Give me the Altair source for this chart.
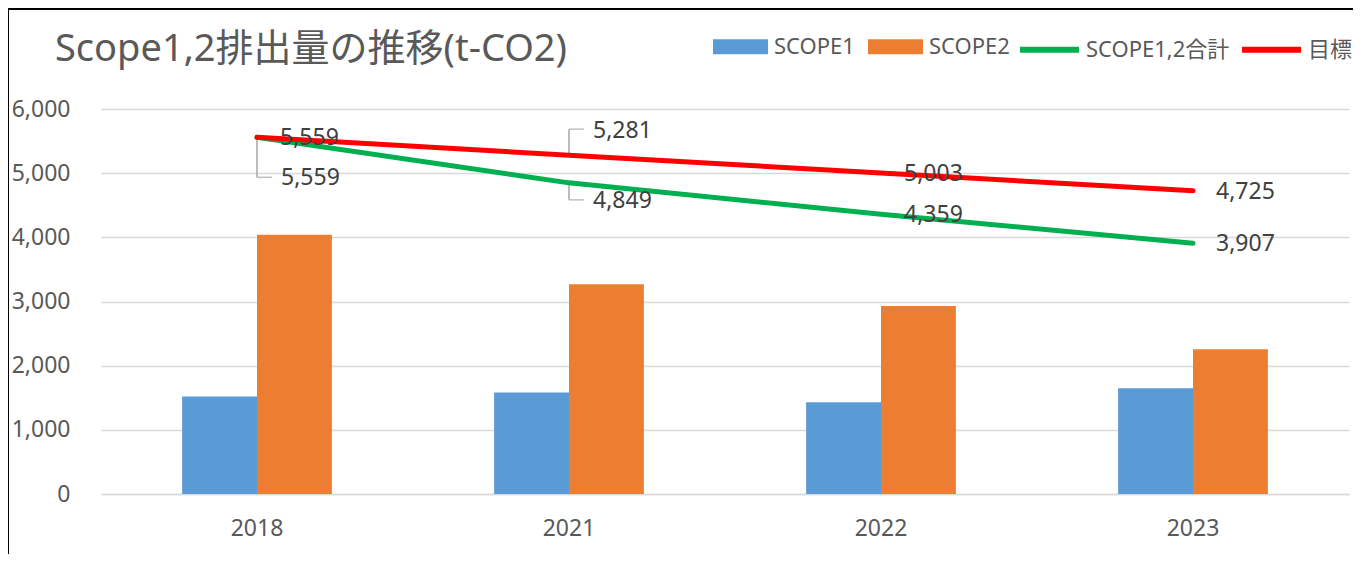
import altair as alt
import pandas as pd

FONT = "Noto Sans, Noto Sans CJK JP"

years = ["2018", "2021", "2022", "2023"]
scope1 = [1520, 1580, 1430, 1650]
scope2 = [4039, 3269, 2929, 2257]
total = [5559, 4849, 4359, 3907]
target = [5559, 5281, 5003, 4725]
bar_names = ["SCOPE1", "SCOPE2"]
line_names = ["SCOPE1,2合計", "目標"]
bar_colors = ["#5B9BD5", "#ED7D31"]
line_colors = ["#00B050", "#FF0000"]
y_ticks = [0, 1000, 2000, 3000, 4000, 5000, 6000]
title_text = "Scope1,2排出量の推移(t-CO2)"

bars_df = pd.DataFrame({
    "year": years * 2,
    "series": [bar_names[0]] * 4 + [bar_names[1]] * 4,
    "value": scope1 + scope2,
})
lines_df = pd.DataFrame({
    "year": years * 2,
    "series": [line_names[0]] * 4 + [line_names[1]] * 4,
    "value": total + target,
})
title_df = pd.DataFrame({"title": [title_text]})

W, H = 1248, 385
PAD = {"left": 93, "top": 101, "right": 4, "bottom": 60}
NUM = 23

x_enc = alt.X(
    "year:N", sort=years,
    scale=alt.Scale(paddingInner=0.52, paddingOuter=0.26),
    axis=alt.Axis(title=None, labelAngle=0, labelFont=FONT, labelFontSize=NUM,
                  labelColor="#595959", labelPadding=23, ticks=False, tickSize=0,
                  domainColor="#D9D9D9", domainWidth=1.5, grid=False),
)
y_enc = alt.Y(
    "value:Q",
    scale=alt.Scale(domain=[0, 6000], nice=False),
    axis=alt.Axis(title=None, values=y_ticks, format=",d", labelFont=FONT,
                  labelFontSize=NUM, labelColor="#595959", labelPadding=31,
                  ticks=False, tickSize=0, domain=False, grid=True,
                  gridColor="#D9D9D9", gridWidth=1.3),
)

fill_enc = alt.Fill(
    "series:N",
    scale=alt.Scale(domain=bar_names, range=bar_colors),
    legend=alt.Legend(
        orient="none", legendX=612, legendY=-90, direction="horizontal",
        title=None, labelFont=FONT, labelFontSize=22, labelColor="#595959",
        symbolType="M-1,-0.27H1V0.27H-1Z", symbolSize=3025, labelOffset=6,
        columnPadding=13, symbolStrokeWidth=0, symbolOpacity=1,
    ),
)
stroke_enc = alt.Stroke(
    "series:N",
    scale=alt.Scale(domain=line_names, range=line_colors),
    legend=alt.Legend(
        orient="none", legendX=916, legendY=-92, direction="horizontal",
        title=None, labelFont=FONT, labelFontSize=22, labelColor="#595959",
        symbolType="stroke", symbolSize=3481, symbolStrokeWidth=6, labelOffset=4,
        columnPadding=0, symbolOpacity=1,
    ),
)

bars = alt.Chart(bars_df).mark_bar().encode(
    x=x_enc, y=y_enc,
    xOffset=alt.XOffset("series:N", sort=bar_names),
    fill=fill_enc,
)

lines = alt.Chart(lines_df).mark_line(strokeWidth=5, strokeCap="round").encode(
    x=x_enc, y=y_enc, stroke=stroke_enc,
)

text_base = alt.Chart(lines_df).mark_text(
    align="left", baseline="middle", font=FONT, fontSize=NUM, color="#404040"
).encode(x=x_enc, y=y_enc, text=alt.Text("value:Q", format=",d"))

is_total = "datum.series == 'SCOPE1,2合計'"
is_target = "datum.series == '目標'"


def lbl(dx, dy):
    return dict(align="left", baseline="middle", font=FONT, fontSize=NUM,
                color="#404040", dx=dx, dy=dy)


labels_normal = text_base.mark_text(**lbl(23, 1)).transform_filter(
    f"!((datum.year == '2018' && {is_total}) || datum.year == '2021')"
)
label_2018_total = text_base.mark_text(**lbl(24, 41)).transform_filter(
    f"datum.year == '2018' && {is_total}")
label_2021_target = text_base.mark_text(**lbl(24, -24)).transform_filter(
    f"datum.year == '2021' && {is_target}")
label_2021_total = text_base.mark_text(**lbl(24, 18)).transform_filter(
    f"datum.year == '2021' && {is_total}")

LEADER = "#A6A6A6"


def leader(cond, y0, y1):
    v = alt.Chart(lines_df).mark_rule(
        color=LEADER, strokeWidth=1.5, yOffset=y0, y2Offset=y1
    ).encode(x=x_enc, y=y_enc, y2="value:Q").transform_filter(cond)
    h = alt.Chart(lines_df).mark_tick(
        color=LEADER, thickness=1.5, size=15, xOffset=7.5, yOffset=y1,
        orient="horizontal"
    ).encode(x=x_enc, y=y_enc).transform_filter(cond)
    return [v, h]


leaders = (
    leader(f"datum.year == '2018' && {is_total}", 0, 40)
    + leader(f"datum.year == '2021' && {is_target}", -2, -26)
    + leader(f"datum.year == '2021' && {is_total}", 2, 17)
)

title_mark = alt.Chart(title_df).mark_text(
    align="left", baseline="alphabetic", font=FONT, fontSize=38, color="#595959"
).encode(x=alt.value(-46), y=alt.value(-48), text="title:N")

frame_left = alt.Chart(title_df).mark_rule(color="#000000", strokeWidth=2).encode(
    x=alt.value(-93), y=alt.value(-101), y2=alt.value(H + PAD["bottom"])
)
frame_top = alt.Chart(title_df).mark_rule(color="#000000", strokeWidth=2).encode(
    x=alt.value(-93), x2=alt.value(W + PAD["right"]), y=alt.value(-100)
)

chart = alt.layer(
    bars, *leaders, lines,
    labels_normal, label_2018_total, label_2021_target, label_2021_total,
    title_mark, frame_left, frame_top,
).properties(
    width=W, height=H,
    padding=PAD,
    autosize=alt.AutoSizeParams(type="none"),
).configure_view(stroke="transparent")

chart.save("out.html", embed_options={"renderer": "svg", "actions": False})
